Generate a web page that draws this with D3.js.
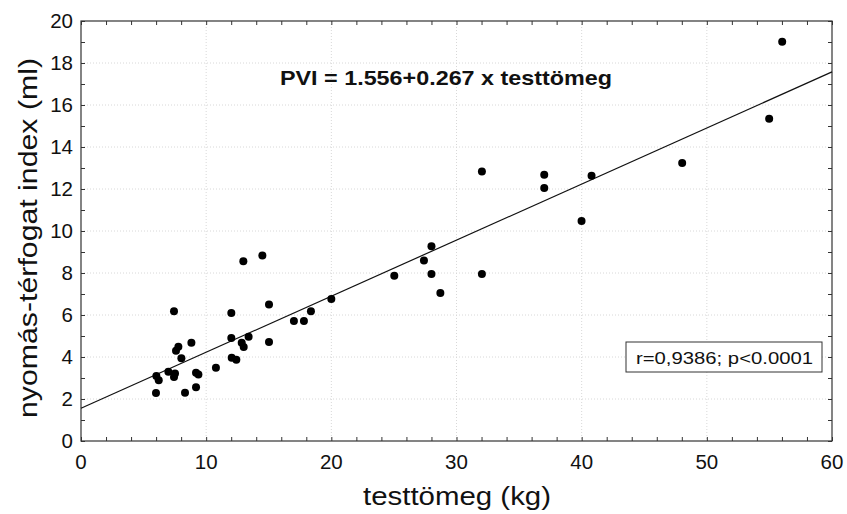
<!DOCTYPE html>
<html>
<head>
<meta charset="utf-8">
<script src="https://cdn.jsdelivr.net/npm/d3@7"></script>
<style>
  body { margin: 0; background: #fff; }
  svg { display: block; font-family: "Liberation Sans", Arial, sans-serif; }
</style>
</head>
<body>
<svg id="chart"></svg>
<script>
// body mass (kg) and pressure-volume index (ml)
var massKg = [5.99, 6.02, 6.21, 6.98, 7.43, 7.43, 7.51, 7.59, 7.78, 8.02, 8.31, 8.82, 9.19, 9.19, 9.38,
  10.78, 12.01, 12.01, 12.04, 12.41, 12.84, 12.97, 13.0, 13.39, 14.49, 15.02, 15.02, 17.01, 17.81, 18.37,
  20.0, 25.03, 27.4, 28.0, 28.0, 28.71, 32.03, 32.03, 37.01, 37.01, 39.99, 40.79, 48.03, 54.98, 56.02]
var pviMl = [2.29, 3.1, 2.89, 3.3, 6.18, 3.05, 3.22, 4.3, 4.49, 3.94, 2.3, 4.68, 2.56, 3.25, 3.17,
  3.49, 6.1, 4.9, 3.97, 3.87, 4.68, 8.56, 4.48, 4.97, 8.83, 6.5, 4.71, 5.71, 5.71, 6.18,
  6.76, 7.87, 8.59, 9.27, 7.95, 7.05, 12.83, 7.95, 12.68, 12.05, 10.48, 12.63, 13.24, 15.35, 19.01]

// regression PVI = a + b * mass
var intercept = 1.556
var slope = 0.267

var xTicks = [0, 10, 20, 30, 40, 50, 60]
var yTicks = [0, 2, 4, 6, 8, 10, 12, 14, 16, 18, 20]

var width = 847
var height = 514
var margin = { top: 21, right: 15, bottom: 73, left: 81 }
var plotW = width - margin.left - margin.right
var plotH = height - margin.top - margin.bottom

var svg = d3.select('#chart').attr('width', width).attr('height', height)
var g = svg.append('g').attr('transform', 'translate(' + margin.left + ',' + margin.top + ')')

var x = d3.scaleLinear().domain([0, 60]).range([0, plotW])
var y = d3.scaleLinear().domain([0, 20]).range([plotH, 0])

// dotted grid at the major ticks
g.append('g').selectAll('line.gx')
  .data(xTicks.slice(1, -1))
  .enter().append('line')
  .attr('x1', function (d) { return x(d) }).attr('x2', function (d) { return x(d) })
  .attr('y1', 0).attr('y2', plotH)
  .attr('stroke', '#d8d8d8').attr('stroke-width', 1).attr('stroke-dasharray', '1,2')
g.append('g').selectAll('line.gy')
  .data(yTicks.slice(1, -1))
  .enter().append('line')
  .attr('y1', function (d) { return y(d) }).attr('y2', function (d) { return y(d) })
  .attr('x1', 0).attr('x2', plotW)
  .attr('stroke', '#d8d8d8').attr('stroke-width', 1).attr('stroke-dasharray', '1,2')

// inward ticks on all four sides, minor every 2 kg and every 1 ml
var xMinor = d3.range(0, 61, 2)
var yMinor = d3.range(0, 21, 1)
var tickLen = 4
function noText(axis) { return axis.tickFormat('').tickSizeOuter(0) }
g.append('g').attr('transform', 'translate(0,' + plotH + ')')
  .call(noText(d3.axisBottom(x).tickValues(xMinor).tickSizeInner(-tickLen)))
g.append('g')
  .call(noText(d3.axisTop(x).tickValues(xMinor).tickSizeInner(-tickLen)))
g.append('g')
  .call(noText(d3.axisLeft(y).tickValues(yMinor).tickSizeInner(-tickLen)))
g.append('g').attr('transform', 'translate(' + plotW + ',0)')
  .call(noText(d3.axisRight(y).tickValues(yMinor).tickSizeInner(-tickLen)))
g.selectAll('.domain').remove()
g.selectAll('.tick line').attr('stroke', '#333').attr('stroke-width', 1)

// frame
g.append('rect').attr('width', plotW).attr('height', plotH)
  .attr('fill', 'none').attr('stroke', '#333').attr('stroke-width', 1.2)

// tick labels
g.append('g').selectAll('text')
  .data(xTicks)
  .enter().append('text')
  .attr('x', function (d) { return x(d) })
  .attr('y', plotH + 28)
  .attr('text-anchor', 'middle')
  .attr('font-size', 20.5)
  .attr('fill', '#111')
  .text(function (d) { return d })
g.append('g').selectAll('text')
  .data(yTicks)
  .enter().append('text')
  .attr('x', -8)
  .attr('y', function (d) { return y(d) + 7 })
  .attr('text-anchor', 'end')
  .attr('font-size', 20.5)
  .attr('fill', '#111')
  .text(function (d) { return d })

// regression line
g.append('line')
  .attr('x1', x(0)).attr('y1', y(intercept))
  .attr('x2', x(60)).attr('y2', y(intercept + slope * 60))
  .attr('stroke', '#111').attr('stroke-width', 1.2)

// points
g.append('g').selectAll('circle')
  .data(massKg)
  .enter().append('circle')
  .attr('cx', function (d) { return x(d) })
  .attr('cy', function (d, i) { return y(pviMl[i]) })
  .attr('r', 4)
  .attr('fill', '#000')

// equation
g.append('text')
  .attr('x', 199).attr('y', 64)
  .attr('font-size', 21).attr('font-weight', 'bold')
  .attr('textLength', 332).attr('lengthAdjust', 'spacingAndGlyphs')
  .attr('fill', '#111')
  .text('PVI = 1.556+0.267 x testtömeg')

// r / p box
var box = g.append('g').attr('transform', 'translate(545,321)')
box.append('rect').attr('width', 196).attr('height', 30)
  .attr('fill', '#fff').attr('stroke', '#333').attr('stroke-width', 1)
box.append('text').attr('x', 10).attr('y', 22)
  .attr('font-size', 17).attr('fill', '#111')
  .attr('textLength', 177).attr('lengthAdjust', 'spacingAndGlyphs')
  .text('r=0,9386; p<0.0001')

// axis titles
svg.append('text')
  .attr('x', 363).attr('y', 505)
  .attr('font-size', 26).attr('fill', '#111')
  .attr('textLength', 188).attr('lengthAdjust', 'spacingAndGlyphs')
  .text('testtömeg (kg)')
svg.append('text')
  .attr('transform', 'translate(37,418) rotate(-90)')
  .attr('font-size', 26).attr('fill', '#111')
  .attr('textLength', 360).attr('lengthAdjust', 'spacingAndGlyphs')
  .text('nyomás-térfogat index (ml)')
</script>
</body>
</html>
